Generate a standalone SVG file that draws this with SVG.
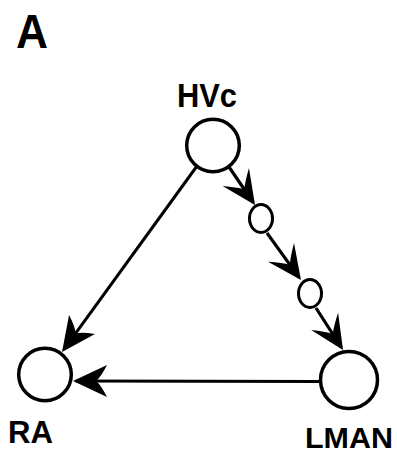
<svg xmlns="http://www.w3.org/2000/svg" width="397" height="456" viewBox="0 0 397 456">
<style>
.node{fill:#fff;stroke:#000;stroke-width:3.5}
.small{fill:#fff;stroke:#000;stroke-width:3}
.lbl{font-family:"Liberation Sans",Arial,sans-serif;font-weight:bold;fill:#000}
.edge{stroke:#000;stroke-width:3.2;fill:none;marker-end:url(#arr)}
.edge2{stroke:#000;stroke-width:3;fill:none;marker-end:url(#arr2)}
</style>
<defs>
<marker id="arr" markerUnits="userSpaceOnUse" markerWidth="40" markerHeight="40" refX="31" refY="0" orient="auto" overflow="visible">
<path d="M34,0 L0,-16 Q9,-5 15,0 Q9,5 0,16 Z" fill="#000"/>
</marker>
<marker id="arr2" markerUnits="userSpaceOnUse" markerWidth="40" markerHeight="40" refX="31" refY="0" orient="auto" overflow="visible">
<path d="M34,0 L0,-16 Q6,-4 11,0 Q6,4 0,16 Z" fill="#000"/>
</marker>
</defs>
<rect width="397" height="456" fill="#fff"/>
<text class="lbl" x="16" y="48" font-size="48" textLength="32" lengthAdjust="spacingAndGlyphs">A</text>
<g id="connectors">
<line class="edge2" x1="197" y1="166" x2="63.8" y2="349.6"/>
<line class="edge" x1="229" y1="167" x2="253.3" y2="202.5"/>
<line class="edge" x1="267" y1="233" x2="299.2" y2="277.6"/>
<line class="edge" x1="316" y1="308" x2="341.4" y2="347.5"/>
<line class="edge2" x1="320" y1="381.5" x2="76" y2="381"/>
</g>
<g id="HVc">
<circle class="node" cx="213" cy="145.5" r="26.3"/>
<text class="lbl" x="177" y="107" font-size="34" textLength="60" lengthAdjust="spacingAndGlyphs">HVc</text>
</g>
<g id="relay1">
<ellipse class="small" cx="261" cy="218.5" rx="11.5" ry="14"/>
</g>
<g id="relay2">
<ellipse class="small" cx="310" cy="293.5" rx="11.5" ry="14"/>
</g>
<g id="LMAN">
<circle class="node" cx="349" cy="380" r="28.5"/>
<text class="lbl" x="305" y="448" font-size="30" textLength="88" lengthAdjust="spacingAndGlyphs">LMAN</text>
</g>
<g id="RA">
<circle class="node" cx="45" cy="374.5" r="26.3"/>
<text class="lbl" x="8" y="443" font-size="32" textLength="45" lengthAdjust="spacingAndGlyphs">RA</text>
</g>
</svg>
